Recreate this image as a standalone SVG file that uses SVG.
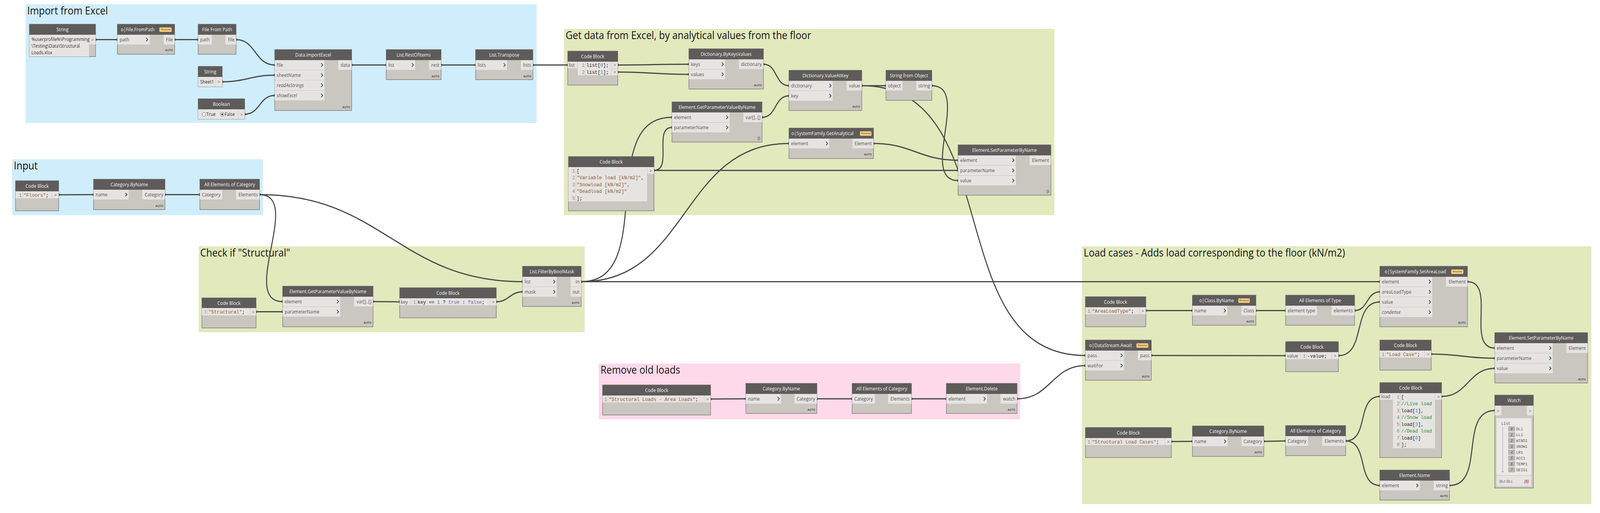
<svg xmlns="http://www.w3.org/2000/svg" width="4636" height="1314" viewBox="0 0 4636 1314" preserveAspectRatio="none">
<style>
:root{width:100vw;height:100vh}
.gb{fill:#D0EDFC}.gg{fill:#E1E9BD}.gp{fill:#FDD9EA}
.gt{font-family:"Open Sans","Liberation Sans",sans-serif;font-size:28px;fill:#141414}
.body{fill:#CAC6C0;stroke:#6A6866;stroke-width:1.2}
.hdr{fill:#5E5C5A}
.ht{font-family:"Open Sans","Liberation Sans",sans-serif;font-size:13px;fill:#F4F4F4;text-anchor:middle}
.hs{text-anchor:start}
.pt{fill:#E6E4E1}
.pl{font-family:"Open Sans","Liberation Sans",sans-serif;font-size:13px;fill:#555}
.r{text-anchor:end}
.it{font-style:italic}
.auto{font-family:"Liberation Sans",sans-serif;font-size:8px;font-weight:bold;fill:#4a4a4a;text-anchor:end}
.lace{font-family:"Liberation Sans",sans-serif;font-size:10px;fill:#4a4a4a;text-anchor:end}
.oa{font-family:"Liberation Sans",sans-serif;font-size:11px;fill:#666;text-anchor:middle}
.code{font-family:"Liberation Mono",monospace;font-size:13.5px;fill:#222}
.ln{font-family:"Liberation Mono",monospace;font-size:13.5px;fill:#8a8a8a;text-anchor:end}
.sep{stroke:#A8A5A0;stroke-width:1;stroke-dasharray:1.5 1.5}
.s{fill:#8B5A33}.n{fill:#1E88E5}.k{fill:#7D55A8}.c{fill:#2E8B2E}
.wire{fill:none;stroke:#474747;stroke-width:3;marker-start:url(#dot);marker-end:url(#dot)}
.badge{fill:#F9D58C;stroke:#D9A94A;stroke-width:0.8}
.bt{font-family:"Liberation Sans",sans-serif;font-size:6.5px;font-style:italic;fill:#6B4A10;text-anchor:middle}
.txt{font-family:"Open Sans","Liberation Sans",sans-serif;font-size:12.5px;fill:#333}
.wl{font-family:"Liberation Mono",monospace;font-size:11px;fill:#555}
.wi{fill:#B9B6B2}
.wit{font-family:"Liberation Mono",monospace;font-size:10px;font-style:italic;fill:#555;text-anchor:middle}
</style>
<defs>
<path id="chev" d="M-2.5,-4.5 L2,0 L-2.5,4.5" fill="none" stroke="#474747" stroke-width="2"/>
<marker id="dot" markerUnits="userSpaceOnUse" markerWidth="8" markerHeight="8" refX="4" refY="4" viewBox="0 0 8 8"><circle cx="4" cy="4" r="3.3" fill="#474747"/></marker>
</defs>
<rect x="0" y="0" width="4636" height="1314" fill="#FFFFFF"/>

<g id="groups">
<rect class="gb" x="74" y="11" width="1481" height="304"/>
<text class="gt" x="79" y="37">Import from Excel</text>
<rect class="gg" x="1634" y="74" width="1421" height="477"/>
<text class="gt" x="1639" y="100">Get data from Excel, by analytical values from the floor</text>
<rect class="gb" x="35" y="408" width="727" height="143"/>
<text class="gt" x="40" y="434">Input</text>
<rect class="gg" x="576" y="631" width="1118" height="220"/>
<text class="gt" x="580" y="657">Check if "Structural"</text>
<rect class="gp" x="1735" y="931" width="1221" height="143"/>
<text class="gt" x="1740" y="957">Remove old loads</text>
<rect class="gg" x="3135" y="631" width="1476" height="660"/>
<text class="gt" x="3140" y="657">Load cases - Adds load corresponding to the floor (kN/m2)</text>
</g>

<g id="connectors">
<path class="wire" d="M277,101.5 C305,101.5 312,101.5 340,101.5"/>
<path class="wire" d="M506,101.5 C537,101.5 543,101.5 574,101.5"/>
<path class="wire" d="M684,101.5 C742,101.5 738,166.5 796,166.5"/>
<path class="wire" d="M644,209.5 C713,209.5 727,192.5 796,192.5"/>
<path class="wire" d="M709,292.5 C754,292.5 751,244.5 796,244.5"/>
<path class="wire" d="M1019,166.5 C1064,166.5 1074,166.5 1119,166.5"/>
<path class="wire" d="M1278,166.5 C1323,166.5 1333,166.5 1378,166.5"/>
<path class="wire" d="M1544,166.5 C1589,166.5 1600,166.5 1645,166.5"/>
<path class="wire" d="M1790,166.5 C1883,166.5 1903,164.5 1996,164.5"/>
<path class="wire" d="M1790,184.5 C1883,184.5 1903,190.5 1996,190.5"/>
<path class="wire" d="M2212,164.5 C2253.5,164.5 2244.5,219.5 2286,219.5"/>
<path class="wire" d="M2208,300.5 C2251,300.5 2243,245.5 2286,245.5"/>
<path class="wire" d="M2497,219.5 C2528.5,219.5 2535.5,219.5 2567,219.5"/>
<path class="wire" d="M2497,219.5 C2923,219.5 2719,910.5 3145,910.5"/>
<path class="wire" d="M2700,219.5 C2814.6,219.5 2661.4,462.5 2776,462.5"/>
<path class="wire" d="M2531,367.5 C2643,367.5 2664,410.5 2776,410.5"/>
<path class="wire" d="M1895,436.5 C1949.8,436.5 1892.2,326.5 1947,326.5"/>
<path class="wire" d="M1895,436.5 L2776,436.5"/>
<path class="wire" d="M170,499 C215,499 226,498.5 271,498.5"/>
<path class="wire" d="M478,498.5 L579,498.5"/>
<path class="wire" d="M752,498.5 C879,498.5 692,772.5 819,772.5"/>
<path class="wire" d="M752,498.5 C1109,498.5 1157,721.5 1514,721.5"/>
<path class="wire" d="M742,798.5 L819,798.5"/>
<path class="wire" d="M1081,772.5 C1116,772.5 1123,773 1158,773"/>
<path class="wire" d="M1438,773 C1474,773 1478,747.5 1514,747.5"/>
<path class="wire" d="M1684,721.5 C1907,721.5 1724,300.5 1947,300.5"/>
<path class="wire" d="M1684,721.5 C1998,721.5 1972,367.5 2286,367.5"/>
<path class="wire" d="M1684,721.5 L3998,721.5"/>
<path class="wire" d="M2059,1022 C2105,1022 2115,1021.5 2161,1021.5"/>
<path class="wire" d="M2367,1021.5 L2469,1021.5"/>
<path class="wire" d="M2641,1021.5 L2742,1021.5"/>
<path class="wire" d="M2947,1021.5 C3044,1021.5 3048,936.5 3145,936.5"/>
<path class="wire" d="M3320,795.5 L3455,795.5"/>
<path class="wire" d="M3639,795.5 L3725,795.5"/>
<path class="wire" d="M3925,795.5 C3964,795.5 3959,747.5 3998,747.5"/>
<path class="wire" d="M3336,910.5 C3511,910.5 3550,911 3725,911"/>
<path class="wire" d="M3878,911 C3960,911 3916,773.5 3998,773.5"/>
<path class="wire" d="M4252,721.5 C4336,721.5 4247,891.5 4331,891.5"/>
<path class="wire" d="M4147,907 C4230,907 4248,917.5 4331,917.5"/>
<path class="wire" d="M4177,1015.5 C4253.5,1015.5 4254.5,943.5 4331,943.5"/>
<path class="wire" d="M3394,1131 L3455,1130.5"/>
<path class="wire" d="M3662,1130.5 L3725,1129.5"/>
<path class="wire" d="M3899,1129.5 C3967,1129.5 3930,1015.5 3998,1015.5"/>
<path class="wire" d="M3899,1129.5 C3967,1129.5 3930,1243.5 3998,1243.5"/>
<path class="wire" d="M4200,1243.5 C4304.6,1243.5 4226.4,1051.5 4331,1051.5"/>
</g>

<g id="n-string-path">
<rect class="body" x="85" y="62" width="192" height="83"/>
<rect class="hdr" x="85" y="62" width="192" height="27"/>
<text class="ht" x="181" y="80.5">String</text>
<rect class="pt" x="85" y="89" width="173" height="56"/>
<rect class="pt" x="259" y="89" width="18" height="25"/>
<text class="txt" x="91" y="105">%userprofile%\Programming</text>
<text class="txt" x="91" y="122">\Testing\Data\Structural</text>
<text class="txt" x="91" y="139">Loads.xlsx</text>
<text class="oa" x="268" y="105">&gt;</text>
</g>
<g id="n-file-frompath">
<rect class="body" x="340" y="62" width="166" height="77"/>
<rect class="hdr" x="340" y="62" width="166" height="27"/>
<text class="ht hs" x="350" y="80.5">o|File.FromPath</text>
<rect class="badge" x="462" y="70.5" width="35" height="11" rx="2"/>
<text class="bt" x="479.5" y="78.5">Renamed</text>
<rect class="pt" x="340" y="89" width="94" height="25"/>
<text class="pl" x="347" y="106">path</text>
<use href="#chev" x="426" y="101.5"/>
<rect class="pt" x="474" y="89" width="32" height="25"/>
<text class="pl r" x="501" y="106">File</text>
<text class="auto" x="501" y="131">AUTO</text>
</g>
<g id="n-file-from-path">
<rect class="body" x="574" y="62" width="110" height="77"/>
<rect class="hdr" x="574" y="62" width="110" height="27"/>
<text class="ht" x="629" y="80.5">File From Path</text>
<rect class="pt" x="574" y="89" width="40" height="25"/>
<text class="pl" x="580" y="106">path</text>
<rect class="pt" x="653" y="89" width="31" height="25"/>
<text class="pl r" x="679" y="106">file</text>
</g>
<g id="n-string-sheet">
<rect class="body" x="574" y="170" width="70" height="52"/>
<rect class="hdr" x="574" y="170" width="70" height="27"/>
<text class="ht" x="609" y="188.5">String</text>
<rect class="pt" x="574" y="197" width="50" height="25"/>
<rect class="pt" x="625" y="197" width="19" height="25"/>
<text class="txt" x="580" y="214">Sheet1</text>
<text class="oa" x="634" y="213">&gt;</text>
</g>
<g id="n-boolean">
<rect class="body" x="574" y="253" width="135" height="52"/>
<rect class="hdr" x="574" y="253" width="135" height="27"/>
<text class="ht" x="641.5" y="271.5">Boolean</text>
<rect class="pt" x="574" y="280" width="116" height="25"/>
<rect class="pt" x="691" y="280" width="18" height="25"/>
<circle cx="591" cy="293" r="5" fill="#FFFFFF" stroke="#555" stroke-width="1"/>
<text class="txt" x="598" y="297.5">True</text>
<circle cx="644" cy="293" r="5" fill="#FFFFFF" stroke="#555" stroke-width="1"/>
<circle cx="644" cy="293" r="2.6" fill="#222"/>
<text class="txt" x="651" y="297.5">False</text>
<text class="oa" x="700" y="297">&gt;</text>
</g>
<g id="n-importexcel">
<rect class="body" x="796" y="127" width="223" height="156"/>
<rect class="hdr" x="796" y="127" width="223" height="27"/>
<text class="ht" x="907.5" y="145.5">Data.ImportExcel</text>
<rect class="pt" x="796" y="154" width="144" height="25"/>
<rect class="pt" x="796" y="180" width="144" height="25"/>
<rect class="pt" x="796" y="206" width="144" height="25"/>
<rect class="pt" x="796" y="232" width="144" height="25"/>
<text class="pl" x="802" y="171">file</text>
<text class="pl" x="802" y="197">sheetName</text>
<text class="pl it" x="802" y="223">readAsStrings</text>
<text class="pl it" x="802" y="249">showExcel</text>
<use href="#chev" x="933" y="166.5"/><use href="#chev" x="933" y="192.5"/><use href="#chev" x="933" y="218.5"/><use href="#chev" x="933" y="244.5"/>
<rect class="pt" x="980" y="154" width="39" height="25"/>
<text class="pl r" x="1014" y="171">data</text>
<text class="auto" x="1014" y="277">AUTO</text>
</g>
<g id="n-restofitems">
<rect class="body" x="1119" y="127" width="159" height="77"/>
<rect class="hdr" x="1119" y="127" width="159" height="27"/>
<text class="ht" x="1198.5" y="145.5">List.RestOfItems</text>
<rect class="pt" x="1119" y="154" width="84" height="25"/>
<text class="pl" x="1125" y="171">list</text>
<use href="#chev" x="1196" y="166.5"/>
<rect class="pt" x="1243" y="154" width="35" height="25"/>
<text class="pl r" x="1273" y="171">rest</text>
<text class="auto" x="1273" y="198">AUTO</text>
</g>
<g id="n-transpose">
<rect class="body" x="1378" y="127" width="166" height="77"/>
<rect class="hdr" x="1378" y="127" width="166" height="27"/>
<text class="ht" x="1461" y="145.5">List.Transpose</text>
<rect class="pt" x="1378" y="154" width="91" height="25"/>
<text class="pl" x="1384" y="171">lists</text>
<use href="#chev" x="1462" y="166.5"/>
<rect class="pt" x="1509" y="154" width="35" height="25"/>
<text class="pl r" x="1539" y="171">lists</text>
<text class="auto" x="1539" y="198">AUTO</text>
</g>

<g id="n-cb-list">
<rect class="body" x="1645" y="131" width="145" height="87"/>
<rect class="hdr" x="1645" y="131" width="145" height="27"/>
<text class="ht" x="1717.5" y="149.5">Code Block</text>
<rect class="pt" x="1645" y="158" width="28" height="17"/>
<text class="pl" x="1648" y="171">list</text>
<rect class="pt" x="1674" y="158" width="97" height="35"/>
<line class="sep" x1="1696" y1="158" x2="1696" y2="193"/>
<text class="ln" x="1694" y="171">1</text>
<text class="ln" x="1694" y="189">2</text>
<text class="code" x="1699" y="171">list[<tspan class="n">0</tspan>];</text>
<text class="code" x="1699" y="189">list[<tspan class="n">1</tspan>];</text>
<rect class="pt" x="1772" y="158" width="18" height="17"/>
<rect class="pt" x="1772" y="176" width="18" height="17"/>
<text class="oa" x="1781" y="170.5">&gt;</text>
<text class="oa" x="1781" y="188.5">&gt;</text>
</g>
<g id="n-dict-bykv">
<rect class="body" x="1996" y="125" width="216" height="103"/>
<rect class="hdr" x="1996" y="125" width="216" height="27"/>
<text class="ht" x="2104" y="143.5">Dictionary.ByKeysValues</text>
<rect class="pt" x="1996" y="152" width="105" height="25"/>
<rect class="pt" x="1996" y="178" width="105" height="25"/>
<text class="pl" x="2002" y="169">keys</text>
<text class="pl" x="2002" y="195">values</text>
<use href="#chev" x="2094" y="164.5"/><use href="#chev" x="2094" y="190.5"/>
<rect class="pt" x="2141" y="152" width="71" height="25"/>
<text class="pl r" x="2207" y="169">dictionary</text>
<text class="auto" x="2207" y="221">AUTO</text>
</g>
<g id="n-dict-valueatkey">
<rect class="body" x="2286" y="180" width="211" height="103"/>
<rect class="hdr" x="2286" y="180" width="211" height="27"/>
<text class="ht" x="2391.5" y="198.5">Dictionary.ValueAtKey</text>
<rect class="pt" x="2286" y="207" width="127" height="25"/>
<rect class="pt" x="2286" y="233" width="127" height="25"/>
<text class="pl" x="2292" y="224">dictionary</text>
<text class="pl" x="2292" y="250">key</text>
<use href="#chev" x="2406" y="219.5"/><use href="#chev" x="2406" y="245.5"/>
<rect class="pt" x="2453" y="207" width="44" height="25"/>
<text class="pl r" x="2492" y="224">value</text>
<text class="auto" x="2492" y="276">AUTO</text>
</g>
<g id="n-getparam-1">
<rect class="body" x="1947" y="261" width="261" height="103"/>
<rect class="hdr" x="1947" y="261" width="261" height="27"/>
<text class="ht" x="2077.5" y="279.5">Element.GetParameterValueByName</text>
<rect class="pt" x="1947" y="288" width="167" height="25"/>
<rect class="pt" x="1947" y="314" width="167" height="25"/>
<text class="pl" x="1953" y="305">element</text>
<text class="pl" x="1953" y="331">parameterName</text>
<use href="#chev" x="2107" y="300.5"/><use href="#chev" x="2107" y="326.5"/>
<rect class="pt" x="2154" y="288" width="54" height="25"/>
<text class="pl r" x="2203" y="305">var[]..[]</text>
<text class="lace" x="2203" y="358">||\</text>
</g>
<g id="n-getanalytical">
<rect class="body" x="2286" y="328" width="245" height="78"/>
<rect class="hdr" x="2286" y="328" width="245" height="27"/>
<text class="ht hs" x="2293" y="346.5">o|SystemFamily.GetAnalytical</text>
<rect class="badge" x="2492" y="336.5" width="33" height="11" rx="2"/>
<text class="bt" x="2508.5" y="344.5">Renamed</text>
<rect class="pt" x="2286" y="355" width="117" height="25"/>
<text class="pl" x="2292" y="372">element</text>
<use href="#chev" x="2396" y="367.5"/>
<rect class="pt" x="2470" y="355" width="61" height="25"/>
<text class="pl r" x="2526" y="372">Element</text>
<text class="auto" x="2526" y="398">AUTO</text>
</g>
<g id="n-stringfromobject">
<rect class="body" x="2567" y="180" width="133" height="77"/>
<rect class="hdr" x="2567" y="180" width="133" height="27"/>
<text class="ht" x="2633.5" y="198.5">String from Object</text>
<rect class="pt" x="2567" y="207" width="48" height="25"/>
<text class="pl" x="2573" y="224">object</text>
<rect class="pt" x="2655" y="207" width="45" height="25"/>
<text class="pl r" x="2695" y="224">string</text>
</g>
<g id="n-cb-params">
<rect class="body" x="1647" y="401" width="248" height="139"/>
<rect class="hdr" x="1647" y="401" width="248" height="27"/>
<text class="ht" x="1771" y="419.5">Code Block</text>
<rect class="pt" x="1647" y="428" width="228" height="88"/>
<line class="sep" x1="1668.5" y1="428" x2="1668.5" y2="516"/>
<text class="ln" x="1666" y="442">1</text>
<text class="ln" x="1666" y="459.5">2</text>
<text class="ln" x="1666" y="477">3</text>
<text class="ln" x="1666" y="494.5">4</text>
<text class="ln" x="1666" y="512">5</text>
<text class="code" x="1671" y="442">[</text>
<text class="code" x="1671" y="459.5"><tspan class="s">"Variable load [kN/m2]"</tspan>,</text>
<text class="code" x="1671" y="477"><tspan class="s">"Snowload [kN/m2]"</tspan>,</text>
<text class="code" x="1671" y="494.5"><tspan class="s">"Deadload [kN/m2]"</tspan></text>
<text class="code" x="1671" y="512">];</text>
<rect class="pt" x="1876" y="428" width="19" height="17"/>
<text class="oa" x="1885.5" y="441">&gt;</text>
</g>
<g id="n-setparam-1">
<rect class="body" x="2776" y="371" width="269" height="129"/>
<rect class="hdr" x="2776" y="371" width="269" height="27"/>
<text class="ht" x="2910.5" y="389.5">Element.SetParameterByName</text>
<rect class="pt" x="2776" y="398" width="167" height="25"/>
<rect class="pt" x="2776" y="424" width="167" height="25"/>
<rect class="pt" x="2776" y="450" width="167" height="25"/>
<text class="pl" x="2782" y="415">element</text>
<text class="pl" x="2782" y="441">parameterName</text>
<text class="pl" x="2782" y="467">value</text>
<use href="#chev" x="2936" y="410.5"/><use href="#chev" x="2936" y="436.5"/><use href="#chev" x="2936" y="462.5"/>
<rect class="pt" x="2983" y="398" width="62" height="25"/>
<text class="pl r" x="3040" y="415">Element</text>
<text class="lace" x="3040" y="494">||\</text>
</g>

<g id="n-cb-floors">
<rect class="body" x="45" y="463" width="125" height="77"/>
<rect class="hdr" x="45" y="463" width="125" height="27"/>
<text class="ht" x="107.5" y="481.5">Code Block</text>
<rect class="pt" x="45" y="490" width="105" height="18"/>
<line class="sep" x1="65.5" y1="490" x2="65.5" y2="508"/>
<text class="ln" x="63" y="504">1</text>
<text class="code" x="68" y="504"><tspan class="s">"Floors"</tspan>;</text>
<rect class="pt" x="151" y="490" width="19" height="18"/>
<text class="oa" x="160.5" y="503">&gt;</text>
</g>
<g id="n-category-byname-1">
<rect class="body" x="271" y="459" width="207" height="78"/>
<rect class="hdr" x="271" y="459" width="207" height="27"/>
<text class="ht" x="374.5" y="477.5">Category.ByName</text>
<rect class="pt" x="271" y="486" width="102" height="25"/>
<text class="pl" x="277" y="503">name</text>
<use href="#chev" x="366" y="498.5"/>
<rect class="pt" x="412" y="486" width="66" height="25"/>
<text class="pl r" x="473" y="503">Category</text>
<text class="auto" x="473" y="530">AUTO</text>
</g>
<g id="n-allelements-1">
<rect class="body" x="579" y="459" width="173" height="78"/>
<rect class="hdr" x="579" y="459" width="173" height="27"/>
<text class="ht" x="665.5" y="477.5">All Elements of Category</text>
<rect class="pt" x="579" y="486" width="65" height="25"/>
<text class="pl" x="585" y="503">Category</text>
<rect class="pt" x="684" y="486" width="68" height="25"/>
<text class="pl r" x="747" y="503">Elements</text>
</g>

<g id="n-cb-structural">
<rect class="body" x="585" y="763" width="157" height="77"/>
<rect class="hdr" x="585" y="763" width="157" height="27"/>
<text class="ht" x="663.5" y="781.5">Code Block</text>
<rect class="pt" x="585" y="789" width="139" height="19"/>
<line class="sep" x1="601.5" y1="789" x2="601.5" y2="808"/>
<text class="ln" x="599" y="803">1</text>
<text class="code" x="604" y="803"><tspan class="s">"Structural"</tspan>;</text>
<rect class="pt" x="725" y="789" width="17" height="19"/>
<text class="oa" x="733.5" y="803">&gt;</text>
</g>
<g id="n-getparam-2">
<rect class="body" x="819" y="733" width="262" height="104"/>
<rect class="hdr" x="819" y="733" width="262" height="27"/>
<text class="ht" x="950" y="751.5">Element.GetParameterValueByName</text>
<rect class="pt" x="819" y="760" width="167" height="25"/>
<rect class="pt" x="819" y="786" width="167" height="25"/>
<text class="pl" x="825" y="777">element</text>
<text class="pl" x="825" y="803">parameterName</text>
<use href="#chev" x="979" y="772.5"/><use href="#chev" x="979" y="798.5"/>
<rect class="pt" x="1026" y="760" width="55" height="25"/>
<text class="pl r" x="1076" y="777">var[]..[]</text>
<text class="auto" x="1076" y="829">AUTO</text>
</g>
<g id="n-cb-key">
<rect class="body" x="1158" y="737" width="280" height="77"/>
<rect class="hdr" x="1158" y="737" width="280" height="27"/>
<text class="ht" x="1298" y="755.5">Code Block</text>
<rect class="pt" x="1158" y="764" width="32" height="18"/>
<text class="pl" x="1161" y="778">key</text>
<rect class="pt" x="1191" y="764" width="228" height="18"/>
<line class="sep" x1="1207.5" y1="764" x2="1207.5" y2="782"/>
<text class="ln" x="1205" y="778">1</text>
<text class="code" x="1210" y="778">key == <tspan class="n">1</tspan> ? <tspan class="k">true</tspan> : <tspan class="k">false</tspan>;</text>
<rect class="pt" x="1420" y="764" width="18" height="18"/>
<text class="oa" x="1429" y="777">&gt;</text>
</g>
<g id="n-filterbyboolmask">
<rect class="body" x="1514" y="682" width="170" height="103"/>
<rect class="hdr" x="1514" y="682" width="170" height="27"/>
<text class="ht" x="1599" y="700.5">List.FilterByBoolMask</text>
<rect class="pt" x="1514" y="709" width="99" height="25"/>
<rect class="pt" x="1514" y="735" width="99" height="25"/>
<text class="pl" x="1520" y="726">list</text>
<text class="pl" x="1520" y="752">mask</text>
<use href="#chev" x="1606" y="721.5"/><use href="#chev" x="1606" y="747.5"/>
<rect class="pt" x="1653" y="709" width="31" height="25"/>
<rect class="pt" x="1653" y="735" width="31" height="25"/>
<text class="pl r" x="1679" y="726">in</text>
<text class="pl r" x="1679" y="752">out</text>
<text class="auto" x="1679" y="778">AUTO</text>
</g>

<g id="n-cb-arealoads">
<rect class="body" x="1746" y="986" width="313" height="77"/>
<rect class="hdr" x="1746" y="986" width="313" height="27"/>
<text class="ht" x="1902.5" y="1004.5">Code Block</text>
<rect class="pt" x="1746" y="1013" width="294" height="18"/>
<line class="sep" x1="1761.5" y1="1013" x2="1761.5" y2="1031"/>
<text class="ln" x="1759" y="1027">1</text>
<text class="code" x="1764" y="1027"><tspan class="s">"Structural Loads - Area Loads"</tspan>;</text>
<rect class="pt" x="2041" y="1013" width="18" height="18"/>
<text class="oa" x="2050" y="1026">&gt;</text>
</g>
<g id="n-category-byname-2">
<rect class="body" x="2161" y="982" width="206" height="77"/>
<rect class="hdr" x="2161" y="982" width="206" height="27"/>
<text class="ht" x="2264" y="1000.5">Category.ByName</text>
<rect class="pt" x="2161" y="1009" width="102" height="25"/>
<text class="pl" x="2167" y="1026">name</text>
<use href="#chev" x="2256" y="1021.5"/>
<rect class="pt" x="2302" y="1009" width="65" height="25"/>
<text class="pl r" x="2362" y="1026">Category</text>
<text class="auto" x="2362" y="1052">AUTO</text>
</g>
<g id="n-allelements-2">
<rect class="body" x="2469" y="982" width="172" height="77"/>
<rect class="hdr" x="2469" y="982" width="172" height="27"/>
<text class="ht" x="2555" y="1000.5">All Elements of Category</text>
<rect class="pt" x="2469" y="1009" width="66" height="25"/>
<text class="pl" x="2475" y="1026">Category</text>
<rect class="pt" x="2573" y="1009" width="68" height="25"/>
<text class="pl r" x="2636" y="1026">Elements</text>
</g>
<g id="n-element-delete">
<rect class="body" x="2742" y="982" width="205" height="77"/>
<rect class="hdr" x="2742" y="982" width="205" height="27"/>
<text class="ht" x="2844.5" y="1000.5">Element.Delete</text>
<rect class="pt" x="2742" y="1009" width="118" height="25"/>
<text class="pl" x="2748" y="1026">element</text>
<use href="#chev" x="2853" y="1021.5"/>
<rect class="pt" x="2899" y="1009" width="48" height="25"/>
<text class="pl r" x="2942" y="1026">watch</text>
<text class="auto" x="2942" y="1052">AUTO</text>
</g>

<g id="n-cb-arealoadtype">
<rect class="body" x="3145" y="760" width="175" height="77"/>
<rect class="hdr" x="3145" y="760" width="175" height="27"/>
<text class="ht" x="3232.5" y="778.5">Code Block</text>
<rect class="pt" x="3145" y="787" width="156" height="18"/>
<line class="sep" x1="3161.5" y1="787" x2="3161.5" y2="805"/>
<text class="ln" x="3159" y="801">1</text>
<text class="code" x="3164" y="801"><tspan class="s">"AreaLoadType"</tspan>;</text>
<rect class="pt" x="3302" y="787" width="18" height="18"/>
<text class="oa" x="3311" y="800">&gt;</text>
</g>
<g id="n-class-byname">
<rect class="body" x="3455" y="756" width="184" height="77"/>
<rect class="hdr" x="3455" y="756" width="184" height="27"/>
<text class="ht hs" x="3475" y="774.5">o|Class.ByName</text>
<rect class="badge" x="3588" y="764.5" width="33" height="11" rx="2"/>
<text class="bt" x="3604.5" y="772.5">Renamed</text>
<rect class="pt" x="3455" y="783" width="101" height="25"/>
<text class="pl" x="3461" y="800">name</text>
<use href="#chev" x="3549" y="795.5"/>
<rect class="pt" x="3597" y="783" width="42" height="25"/>
<text class="pl r" x="3634" y="800">Class</text>
<text class="auto" x="3634" y="826">AUTO</text>
</g>
<g id="n-allelementsoftype">
<rect class="body" x="3725" y="756" width="200" height="77"/>
<rect class="hdr" x="3725" y="756" width="200" height="27"/>
<text class="ht" x="3825" y="774.5">All Elements of Type</text>
<rect class="pt" x="3725" y="783" width="91" height="25"/>
<text class="pl" x="3731" y="800">element type</text>
<rect class="pt" x="3858" y="783" width="67" height="25"/>
<text class="pl r" x="3920" y="800">elements</text>
</g>
<g id="n-datastream-await">
<rect class="body" x="3145" y="871" width="191" height="103"/>
<rect class="hdr" x="3145" y="871" width="191" height="27"/>
<text class="ht hs" x="3156" y="889.5">o|DataStream.Await</text>
<rect class="badge" x="3293" y="879.5" width="34" height="11" rx="2"/>
<text class="bt" x="3310" y="887.5">Renamed</text>
<rect class="pt" x="3145" y="898" width="112" height="25"/>
<rect class="pt" x="3145" y="924" width="112" height="25"/>
<text class="pl" x="3151" y="915">pass</text>
<text class="pl" x="3151" y="941">waitFor</text>
<use href="#chev" x="3250" y="910.5"/><use href="#chev" x="3250" y="936.5"/>
<rect class="pt" x="3297" y="898" width="39" height="25"/>
<text class="pl r" x="3331" y="915">pass</text>
<text class="auto" x="3331" y="967">AUTO</text>
</g>
<g id="n-cb-negvalue">
<rect class="body" x="3725" y="875" width="153" height="77"/>
<rect class="hdr" x="3725" y="875" width="153" height="27"/>
<text class="ht" x="3801.5" y="893.5">Code Block</text>
<rect class="pt" x="3725" y="902" width="43" height="18"/>
<text class="pl" x="3729" y="916">value</text>
<rect class="pt" x="3769" y="902" width="89" height="18"/>
<line class="sep" x1="3785.5" y1="902" x2="3785.5" y2="920"/>
<text class="ln" x="3783" y="916">1</text>
<text class="code" x="3788" y="916">-value;</text>
<rect class="pt" x="3859" y="902" width="19" height="18"/>
<text class="oa" x="3868.5" y="915">&gt;</text>
</g>
<g id="n-setareaload">
<rect class="body" x="3998" y="682" width="254" height="155"/>
<rect class="hdr" x="3998" y="682" width="254" height="27"/>
<text class="ht hs" x="4012" y="700.5">o|SystemFamily.SetAreaLoad</text>
<rect class="badge" x="4205" y="690.5" width="35" height="11" rx="2"/>
<text class="bt" x="4222.5" y="698.5">Renamed</text>
<rect class="pt" x="3998" y="709" width="152" height="25"/>
<rect class="pt" x="3998" y="735" width="152" height="25"/>
<rect class="pt" x="3998" y="761" width="152" height="25"/>
<rect class="pt" x="3998" y="787" width="152" height="25"/>
<text class="pl" x="4004" y="726">element</text>
<text class="pl" x="4004" y="752">areaLoadType</text>
<text class="pl" x="4004" y="778">value</text>
<text class="pl it" x="4004" y="804">condense</text>
<use href="#chev" x="4143" y="721.5"/><use href="#chev" x="4143" y="747.5"/><use href="#chev" x="4143" y="773.5"/><use href="#chev" x="4143" y="799.5"/>
<rect class="pt" x="4190" y="709" width="62" height="25"/>
<text class="pl r" x="4247" y="726">Element</text>
<text class="auto" x="4247" y="829">AUTO</text>
</g>
<g id="n-cb-loadcase">
<rect class="body" x="3998" y="871" width="149" height="77"/>
<rect class="hdr" x="3998" y="871" width="149" height="27"/>
<text class="ht" x="4072.5" y="889.5">Code Block</text>
<rect class="pt" x="3998" y="898" width="129" height="18"/>
<line class="sep" x1="4014.5" y1="898" x2="4014.5" y2="916"/>
<text class="ln" x="4012" y="912">1</text>
<text class="code" x="4017" y="912"><tspan class="s">"Load Case"</tspan>;</text>
<rect class="pt" x="4128" y="898" width="19" height="18"/>
<text class="oa" x="4137.5" y="911">&gt;</text>
</g>
<g id="n-setparam-2">
<rect class="body" x="4331" y="852" width="269" height="129"/>
<rect class="hdr" x="4331" y="852" width="269" height="27"/>
<text class="ht" x="4465.5" y="870.5">Element.SetParameterByName</text>
<rect class="pt" x="4331" y="879" width="168" height="25"/>
<rect class="pt" x="4331" y="905" width="168" height="25"/>
<rect class="pt" x="4331" y="931" width="168" height="25"/>
<text class="pl" x="4337" y="896">element</text>
<text class="pl" x="4337" y="922">parameterName</text>
<text class="pl" x="4337" y="948">value</text>
<use href="#chev" x="4492" y="891.5"/><use href="#chev" x="4492" y="917.5"/><use href="#chev" x="4492" y="943.5"/>
<rect class="pt" x="4539" y="879" width="61" height="25"/>
<text class="pl r" x="4595" y="896">Element</text>
<text class="auto" x="4595" y="974">AUTO</text>
</g>
<g id="n-cb-loadcases">
<rect class="body" x="3145" y="1095" width="249" height="77"/>
<rect class="hdr" x="3145" y="1095" width="249" height="27"/>
<text class="ht" x="3269.5" y="1113.5">Code Block</text>
<rect class="pt" x="3145" y="1122" width="230" height="18"/>
<line class="sep" x1="3161.5" y1="1122" x2="3161.5" y2="1140"/>
<text class="ln" x="3159" y="1136">1</text>
<text class="code" x="3164" y="1136"><tspan class="s">"Structural Load Cases"</tspan>;</text>
<rect class="pt" x="3376" y="1122" width="18" height="18"/>
<text class="oa" x="3385" y="1135">&gt;</text>
</g>
<g id="n-category-byname-3">
<rect class="body" x="3455" y="1091" width="207" height="78"/>
<rect class="hdr" x="3455" y="1091" width="207" height="27"/>
<text class="ht" x="3558.5" y="1109.5">Category.ByName</text>
<rect class="pt" x="3455" y="1118" width="102" height="25"/>
<text class="pl" x="3461" y="1135">name</text>
<use href="#chev" x="3550" y="1130.5"/>
<rect class="pt" x="3597" y="1118" width="65" height="25"/>
<text class="pl r" x="3657" y="1135">Category</text>
<text class="auto" x="3657" y="1161">AUTO</text>
</g>
<g id="n-allelements-3">
<rect class="body" x="3725" y="1090" width="174" height="77"/>
<rect class="hdr" x="3725" y="1090" width="174" height="27"/>
<text class="ht" x="3812" y="1108.5">All Elements of Category</text>
<rect class="pt" x="3725" y="1117" width="65" height="25"/>
<text class="pl" x="3731" y="1134">Category</text>
<rect class="pt" x="3831" y="1117" width="68" height="25"/>
<text class="pl r" x="3894" y="1134">Elements</text>
</g>
<g id="n-cb-load">
<rect class="body" x="3998" y="980" width="179" height="192"/>
<rect class="hdr" x="3998" y="980" width="179" height="27"/>
<text class="ht" x="4087.5" y="998.5">Code Block</text>
<rect class="pt" x="3998" y="1007" width="37" height="17"/>
<text class="pl" x="4002" y="1020">load</text>
<rect class="pt" x="4036" y="1007" width="122" height="141"/>
<line class="sep" x1="4057" y1="1007" x2="4057" y2="1148"/>
<text class="ln" x="4055" y="1021">1</text>
<text class="ln" x="4055" y="1038.5">2</text>
<text class="ln" x="4055" y="1056">3</text>
<text class="ln" x="4055" y="1073.5">4</text>
<text class="ln" x="4055" y="1091">5</text>
<text class="ln" x="4055" y="1108.5">6</text>
<text class="ln" x="4055" y="1126">7</text>
<text class="ln" x="4055" y="1143.5">8</text>
<text class="code" x="4060" y="1021">[</text>
<text class="code c" x="4060" y="1038.5">//Live load</text>
<text class="code" x="4060" y="1056">load[<tspan class="n">1</tspan>],</text>
<text class="code c" x="4060" y="1073.5">//Snow load</text>
<text class="code" x="4060" y="1091">load[<tspan class="n">3</tspan>],</text>
<text class="code c" x="4060" y="1108.5">//Dead load</text>
<text class="code" x="4060" y="1126">load[<tspan class="n">0</tspan>]</text>
<text class="code" x="4060" y="1143.5">];</text>
<rect class="pt" x="4159" y="1007" width="18" height="17"/>
<text class="oa" x="4168" y="1020">&gt;</text>
</g>
<g id="n-element-name">
<rect class="body" x="3998" y="1204" width="202" height="77"/>
<rect class="hdr" x="3998" y="1204" width="202" height="27"/>
<text class="ht" x="4099" y="1222.5">Element.Name</text>
<rect class="pt" x="3998" y="1231" width="116" height="25"/>
<text class="pl" x="4004" y="1248">element</text>
<use href="#chev" x="4107" y="1243.5"/>
<rect class="pt" x="4154" y="1231" width="46" height="25"/>
<text class="pl r" x="4195" y="1248">string</text>
<text class="auto" x="4195" y="1273">AUTO</text>
</g>
<g id="n-watch">
<rect class="body" x="4331" y="1012" width="112" height="238"/>
<rect class="hdr" x="4331" y="1012" width="112" height="27"/>
<text class="ht" x="4387" y="1030.5">Watch</text>
<rect class="pt" x="4331" y="1039" width="19" height="25"/>
<rect class="pt" x="4424" y="1039" width="19" height="25"/>
<text class="oa" x="4340.5" y="1056">&gt;</text>
<text class="oa" x="4433.5" y="1056">&gt;</text>
<rect x="4336" y="1071" width="101" height="146" fill="#EBE9E6"/>
<text class="wl" x="4350" y="1088">List</text>
<line x1="4354" y1="1092" x2="4354" y2="1208" stroke="#9a9a9a" stroke-width="1"/>
<circle cx="4354" cy="1208" r="2" fill="#9a9a9a"/>
<rect class="wi" x="4370" y="1092" width="20" height="13"/><text class="wit" x="4380" y="1102">0</text><text class="wl" x="4393" y="1102">DL1</text>
<rect class="wi" x="4370" y="1107" width="20" height="13"/><text class="wit" x="4380" y="1117">1</text><text class="wl" x="4393" y="1117">LL1</text>
<rect class="wi" x="4370" y="1122" width="20" height="13"/><text class="wit" x="4380" y="1132">2</text><text class="wl" x="4393" y="1132">WIND1</text>
<rect class="wi" x="4370" y="1137" width="20" height="13"/><text class="wit" x="4380" y="1147">3</text><text class="wl" x="4393" y="1147">SNOW1</text>
<rect class="wi" x="4370" y="1152" width="20" height="13"/><text class="wit" x="4380" y="1162">4</text><text class="wl" x="4393" y="1162">LR1</text>
<rect class="wi" x="4370" y="1167" width="20" height="13"/><text class="wit" x="4380" y="1177">5</text><text class="wl" x="4393" y="1177">ACC1</text>
<rect class="wi" x="4370" y="1182" width="20" height="13"/><text class="wit" x="4380" y="1192">6</text><text class="wl" x="4393" y="1192">TEMP1</text>
<rect class="wi" x="4370" y="1197" width="20" height="13"/><text class="wit" x="4380" y="1207">7</text><text class="wl" x="4393" y="1207">SEIS1</text>
<rect x="4336" y="1218" width="101" height="28" fill="#E6E4E1" stroke="#D3D0CB" stroke-width="1"/>
<text x="4344" y="1236" font-family="Liberation Sans, sans-serif" font-size="8.5" fill="#555">@L2 @L1</text>
<text x="4430" y="1237" font-family="Liberation Sans, sans-serif" font-size="11" font-style="italic" fill="#A01818" text-anchor="end">{8}</text>
</g>
</svg>
